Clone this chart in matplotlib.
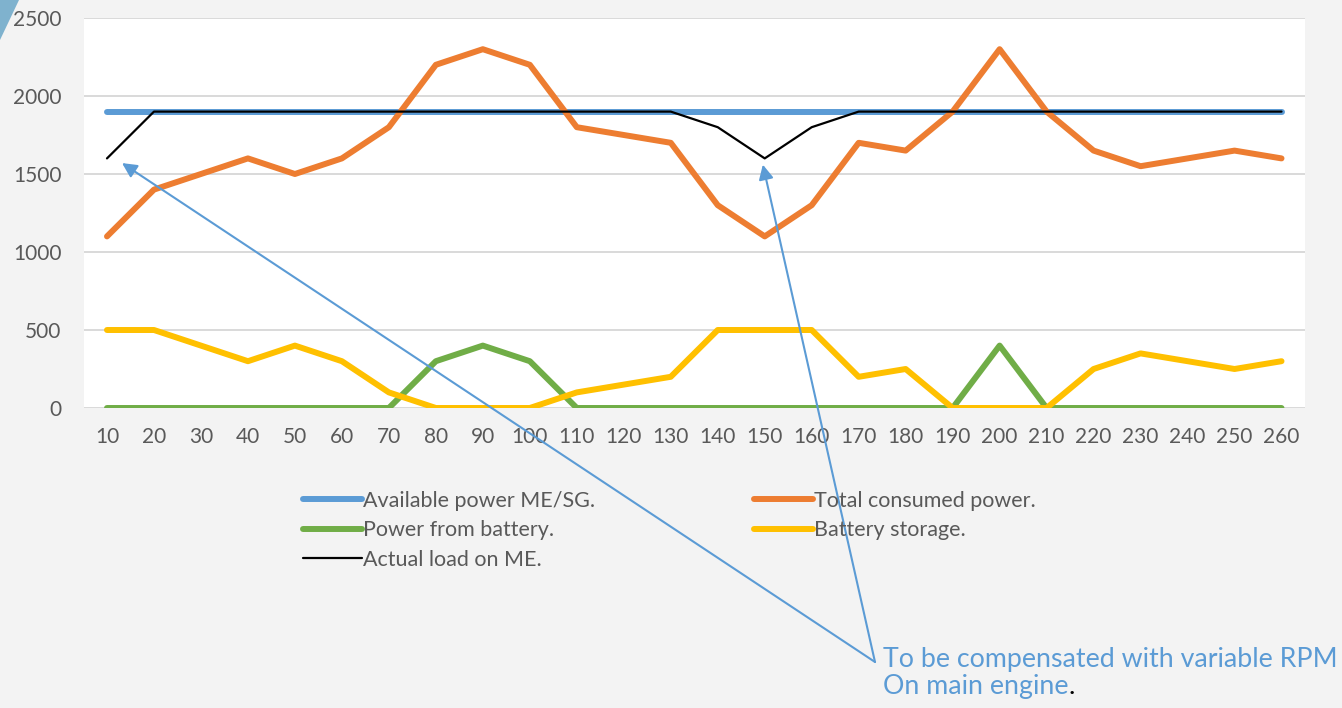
import numpy as np
import matplotlib.pyplot as plt
from matplotlib.patches import Polygon

plt.rcParams['font.family'] = ['Lato', 'DejaVu Sans']

# data
labels = [10, 20, 30, 40, 50, 60, 70, 80, 90, 100, 110, 120, 130,
          140, 150, 160, 170, 180, 190, 200, 210, 220, 230, 240, 250, 260]
available = [1900] * 26
total_consumed = [1100, 1400, 1500, 1600, 1500, 1600, 1800, 2200, 2300, 2200, 1800, 1750, 1700,
                  1300, 1100, 1300, 1700, 1650, 1900, 2300, 1900, 1650, 1550, 1600, 1650, 1600]
from_battery = [0, 0, 0, 0, 0, 0, 0, 300, 400, 300, 0, 0, 0,
                0, 0, 0, 0, 0, 0, 400, 0, 0, 0, 0, 0, 0]
storage = [500, 500, 400, 300, 400, 300, 100, 0, 0, 0, 100, 150, 200,
           500, 500, 500, 200, 250, 0, 0, 0, 250, 350, 300, 250, 300]
actual_load = [1600, 1900, 1900, 1900, 1900, 1900, 1900, 1900, 1900, 1900, 1900, 1900, 1900,
               1800, 1600, 1800, 1900, 1900, 1900, 1900, 1900, 1900, 1900, 1900, 1900, 1900]

W, H = 1342, 708
fig = plt.figure(figsize=(W / 100, H / 100), dpi=100, facecolor='#f3f3f3')
ax = fig.add_axes([83.5 / W, 1 - 408 / H, (1305 - 83.5) / W, 390 / H])
ax.set_facecolor('white')

x = np.arange(len(labels))
kw = dict(solid_capstyle='round', solid_joinstyle='round')
l1, = ax.plot(x, available, color='#5B9BD5', lw=4.3, label='Available power ME/SG.', **kw)
l2, = ax.plot(x, total_consumed, color='#ED7D31', lw=4.3, label='Total consumed power.', **kw)
l3, = ax.plot(x, from_battery, color='#70AD47', lw=4.3, label='Power from battery.', **kw)
l4, = ax.plot(x, storage, color='#FFC000', lw=4.3, label='Battery storage.', **kw)
l5, = ax.plot(x, actual_load, color='black', lw=1.6, label='Actual load on ME.', **kw)

ax.set_xlim(-0.5, len(labels) - 0.5)
ax.set_ylim(0, 2500)
ax.set_yticks([0, 500, 1000, 1500, 2000, 2500])
ax.set_xticks(x)
ax.set_xticklabels([str(v) for v in labels])
ax.tick_params(length=0, labelsize=15, labelcolor='#595959')
ax.tick_params(axis='y', pad=16)
ax.tick_params(axis='x', pad=14)
ax.grid(axis='y', color='#d9d9d9', lw=1.4)
ax.set_axisbelow(True)
for s in ax.spines.values():
    s.set_visible(False)

order = [l1, l3, l5, l2, l4]
leg = fig.legend(order, [l.get_label() for l in order],
                 ncol=2, frameon=False, fontsize=15.5, labelcolor='#595959',
                 loc='upper left', bbox_to_anchor=(303 / W, 1 - 491 / H),
                 borderpad=0, borderaxespad=0, handlelength=2.75,
                 handletextpad=0.05, labelspacing=0.43, columnspacing=7.35)

# annotation
blue = '#5B9BD5'
t1 = fig.text(883 / W, 1 - 667 / H, 'To be compensated with variable RPM',
              color=blue, fontsize=19.3, va='baseline')
t2 = fig.text(883 / W, 1 - 694 / H, 'On main engine',
              color=blue, fontsize=19.3, va='baseline')
ax.annotate('.', xy=(1, 0), xycoords=t2, color='black', fontsize=19.3,
            va='bottom', ha='left', annotation_clip=False)

start = (875, H - 662)
for tip in [(0.32, 1570), (13.96, 1560)]:
    ax.annotate('', xy=tip, xycoords='data', xytext=start, textcoords='figure pixels',
                arrowprops=dict(arrowstyle='-|>', color=blue, lw=1.5,
                                mutation_scale=22, shrinkA=0, shrinkB=0))

# blue corner triangle
fig.patches.append(Polygon([(0, H), (19, H), (0, H - 40)], closed=True,
                           transform=None, facecolor='#7FB2CE', edgecolor='none'))

fig.savefig('out.png', dpi=100, facecolor=fig.get_facecolor())
